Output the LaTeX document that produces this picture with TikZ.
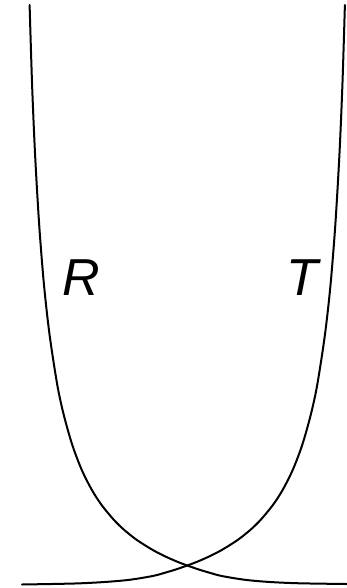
\documentclass[tikz,border=0pt]{standalone}
\usepackage{fontspec}
\setmainfont{Liberation Sans}
\begin{document}
\begin{tikzpicture}[x=1pt,y=-1pt,
  curve/.style={line width=2pt, black, line cap=round},
  lbl/.style={anchor=base, inner sep=0pt, font=\fontsize{52}{52}\selectfont\itshape}]
\useasboundingbox (0,0) rectangle (347,588);
\draw[curve] plot[smooth, tension=0.5] coordinates {
  (29.6,5) (32.1,85) (35.1,155) (39.2,225) (44.0,285) (49.6,335) (57.3,385)
  (63.8,415) (72.3,445) (81.8,470) (91.9,490) (101.6,505) (114,520)
  (124.3,530) (136.9,540) (152.8,550) (166.5,557) (180.5,563) (197.3,569)
  (210.5,573) (221.8,576) (245,579.8) (270,582) (300,583.3) (347,584)};
\draw[curve] plot[smooth, tension=0.5] coordinates {
  (344.9,5) (342.4,85) (339.4,155) (335.3,225) (330.5,285) (324.9,335) (317.2,385)
  (310.7,415) (302.2,445) (292.7,470) (282.6,490) (272.9,505) (260.5,520)
  (250.2,530) (237.6,540) (221.7,550) (208,557) (194,563) (177.2,569)
  (164,573) (152.7,576) (129.5,579.8) (104.5,582) (74.5,583.5) (22,584.5)};
\node[lbl] (R) at (81,295) {R};
\node[lbl] (T) at (302,295) {T};
\end{tikzpicture}
\end{document}
